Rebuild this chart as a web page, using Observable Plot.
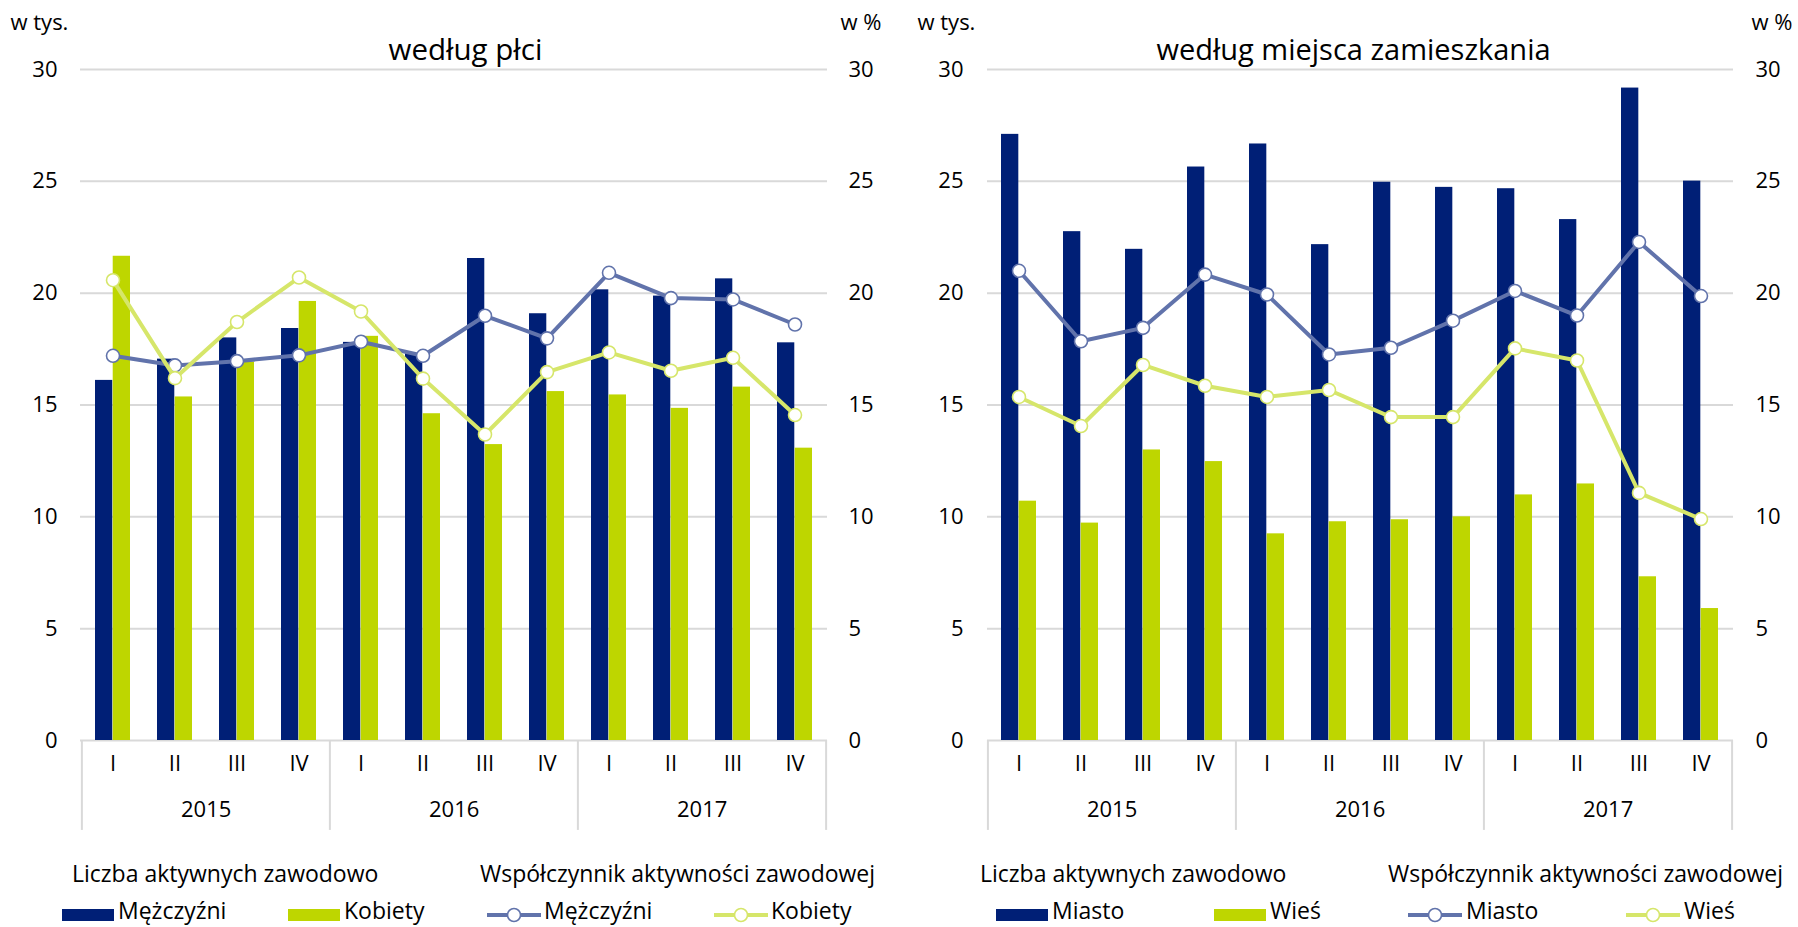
<!DOCTYPE html>
<html>
<head>
<meta charset="utf-8">
<script src="https://cdn.jsdelivr.net/npm/d3@7"></script>
<script src="https://cdn.jsdelivr.net/npm/@observablehq/plot@0.6"></script>
<style>
  html, body { margin: 0; padding: 0; background: #fff; }
  #wrap { position: relative; width: 1798px; height: 927px; font-family: "Open Sans", sans-serif; color: #000; overflow: hidden; }
  .panel { position: absolute; top: 0; }
  .lg { position: absolute; font-size: 23px; line-height: 24px; white-space: nowrap; }
  .sw { position: absolute; }
</style>
</head>
<body>
<div id="wrap">
  <div id="left" class="panel" style="left:0px"></div>
  <div id="right" class="panel" style="left:899px"></div>
</div>
<script>
// ---- data ----
const years = ["2015", "2016", "2017"];
const quarters = ["I", "II", "III", "IV"];
const yTicks = [0, 5, 10, 15, 20, 25, 30];

// według płci
const menCount   = [16.1, 17.05, 18.0, 18.42, 17.8, 17.3, 21.55, 19.08, 20.15, 19.87, 20.64, 17.78];
const womenCount = [21.65, 15.36, 16.92, 19.63, 18.07, 14.61, 13.23, 15.6, 15.45, 14.85, 15.8, 13.07];
const menRate    = [17.2, 16.77, 16.96, 17.22, 17.83, 17.2, 18.99, 17.98, 20.91, 19.78, 19.72, 18.6];
const womenRate  = [20.58, 16.2, 18.71, 20.7, 19.18, 16.18, 13.68, 16.47, 17.35, 16.53, 17.11, 14.55];

// według miejsca zamieszkania
const cityCount    = [27.1, 22.75, 21.96, 25.64, 26.67, 22.17, 24.96, 24.73, 24.67, 23.29, 29.17, 25.01];
const villageCount = [10.7, 9.72, 12.99, 12.47, 9.24, 9.78, 9.87, 10.0, 10.98, 11.47, 7.32, 5.9];
const cityRate     = [21.0, 17.85, 18.45, 20.83, 19.94, 17.26, 17.56, 18.77, 20.1, 19.0, 22.29, 19.87];
const villageRate  = [15.36, 14.06, 16.79, 15.86, 15.36, 15.67, 14.46, 14.46, 17.53, 16.99, 11.07, 9.9];

const legendHead1 = "Liczba aktywnych zawodowo";
const legendHead2 = "Współczynnik aktywności zawodowej";

// ---- style ----
const NAVY = "#001f76";
const GREEN = "#bed600";
const BLUE_LINE = "#6173ab";
const GREEN_LINE = "#d6e66a";
const GRID = "#d9d9d9";

const keys = years.flatMap(y => quarters.map(q => y + " " + q));

function panel(el, cfg) {
  const W = 899, H = 845, mt = 69, mb = 105;
  const step = (W - cfg.ml - cfg.mr) / keys.length;
  const pad = 0.431;
  const half = step * (1 - pad) / 2;
  const rows = keys.map((k, i) => ({key: k, q: k.split(" ")[1], a: cfg.a[i], b: cfg.b[i], c: cfg.c[i], d: cfg.d[i]}));
  const firstKeys = years.map(y => y + " I");
  const midKeys = years.map(y => y + " II");
  const chart = Plot.plot({
    width: W, height: H,
    marginTop: mt, marginBottom: mb, marginLeft: cfg.ml, marginRight: cfg.mr,
    style: {fontFamily: "'Open Sans', sans-serif", fontSize: "22px", color: "#000", background: "transparent", overflow: "visible"},
    x: {type: "band", domain: keys, paddingInner: pad, paddingOuter: pad / 2, axis: null},
    y: {domain: [0, 30], axis: null},
    marks: [
      Plot.ruleY(yTicks, {stroke: GRID, strokeWidth: 2}),
      Plot.barY(rows, {x: "key", y: "a", fill: NAVY, insetRight: half}),
      Plot.barY(rows, {x: "key", y: "b", fill: GREEN, insetLeft: half}),
      Plot.ruleX(firstKeys, {x: d => d, dx: -step / 2, y1: 0, y2: -4.02, stroke: GRID, strokeWidth: 2}),
      Plot.ruleX([keys[keys.length - 1]], {x: d => d, dx: step / 2, y1: 0, y2: -4.02, stroke: GRID, strokeWidth: 2}),
      Plot.line(rows, {x: "key", y: "c", stroke: BLUE_LINE, strokeWidth: 4}),
      Plot.dot(rows, {x: "key", y: "c", r: 6.5, fill: "white", stroke: BLUE_LINE, strokeWidth: 1.6}),
      Plot.line(rows, {x: "key", y: "d", stroke: GREEN_LINE, strokeWidth: 4}),
      Plot.dot(rows, {x: "key", y: "d", r: 6.5, fill: "white", stroke: GREEN_LINE, strokeWidth: 1.6}),
      Plot.axisY({anchor: "left", ticks: yTicks, tickSize: 0, tickPadding: cfg.lp, label: null, fontSize: 22}),
      Plot.axisY({anchor: "right", ticks: yTicks, tickSize: 0, tickPadding: cfg.rp, label: null, fontSize: 22}),
      Plot.text(rows, {x: "key", text: "q", frameAnchor: "bottom", dy: 30, fontSize: 22}),
      Plot.text(midKeys, {x: d => d, text: d => d.split(" ")[0], dx: step / 2, frameAnchor: "bottom", dy: 76, fontSize: 22}),
      Plot.text([cfg.title], {frameAnchor: "top-left", dx: cfg.tx - cfg.ml, dy: -30, textAnchor: "middle", fontSize: cfg.ts}),
      Plot.text(["w tys."], {frameAnchor: "top-left", dx: cfg.ux1 - cfg.ml, dy: -55, textAnchor: "start", fontSize: 22}),
      Plot.text(["w %"], {frameAnchor: "top-left", dx: cfg.ux2 - cfg.ml, dy: -55, textAnchor: "start", fontSize: 22})
    ]
  });
  el.appendChild(chart);
}

panel(document.getElementById("left"), {
  ml: 80, mr: 72, lp: 23, rp: 21, tx: 465, ts: 29.5, ux1: 10, ux2: 840, title: "według płci",
  a: menCount, b: womenCount, c: menRate, d: womenRate
});
panel(document.getElementById("right"), {
  ml: 88, mr: 65, lp: 24, rp: 22, tx: 454, ts: 29, ux1: 18, ux2: 852, title: "według miejsca zamieszkania",
  a: cityCount, b: villageCount, c: cityRate, d: villageRate
});

// ---- legends (HTML) ----
const wrap = document.getElementById("wrap");
function addText(txt, x, yc) {
  const d = document.createElement("div");
  d.className = "lg";
  d.textContent = txt;
  d.style.left = x + "px";
  d.style.top = (yc - 12) + "px";
  wrap.appendChild(d);
}
function addRect(x, color) {
  const d = document.createElement("div");
  d.className = "sw";
  d.style.left = x + "px"; d.style.top = "909px";
  d.style.width = "52px"; d.style.height = "12px";
  d.style.background = color;
  wrap.appendChild(d);
}
function addLine(x, color) {
  const ns = "http://www.w3.org/2000/svg";
  const s = document.createElementNS(ns, "svg");
  s.setAttribute("width", 56); s.setAttribute("height", 20);
  s.style.position = "absolute"; s.style.left = x + "px"; s.style.top = "905px";
  const l = document.createElementNS(ns, "line");
  l.setAttribute("x1", 1); l.setAttribute("x2", 55); l.setAttribute("y1", 10); l.setAttribute("y2", 10);
  l.setAttribute("stroke", color); l.setAttribute("stroke-width", 4);
  const c = document.createElementNS(ns, "circle");
  c.setAttribute("cx", 28); c.setAttribute("cy", 10); c.setAttribute("r", 6.5);
  c.setAttribute("fill", "white"); c.setAttribute("stroke", color); c.setAttribute("stroke-width", 1.6);
  s.appendChild(l); s.appendChild(c);
  wrap.appendChild(s);
}
const legends = [
  {h1: 72,  h2: 480,  items: [["Mężczyźni", "rect", NAVY, 62, 118], ["Kobiety", "rect", GREEN, 288, 344], ["Mężczyźni", "line", BLUE_LINE, 486, 544], ["Kobiety", "line", GREEN_LINE, 713, 771]]},
  {h1: 980, h2: 1388, items: [["Miasto", "rect", NAVY, 996, 1052], ["Wieś", "rect", GREEN, 1214, 1270], ["Miasto", "line", BLUE_LINE, 1407, 1466], ["Wieś", "line", GREEN_LINE, 1625, 1684]]}
];
for (const lg of legends) {
  addText(legendHead1, lg.h1, 873);
  addText(legendHead2, lg.h2, 873);
  for (const [label, kind, color, sx, tx] of lg.items) {
    if (kind === "rect") addRect(sx, color); else addLine(sx, color);
    addText(label, tx, 910);
  }
}
</script>
</body>
</html>
